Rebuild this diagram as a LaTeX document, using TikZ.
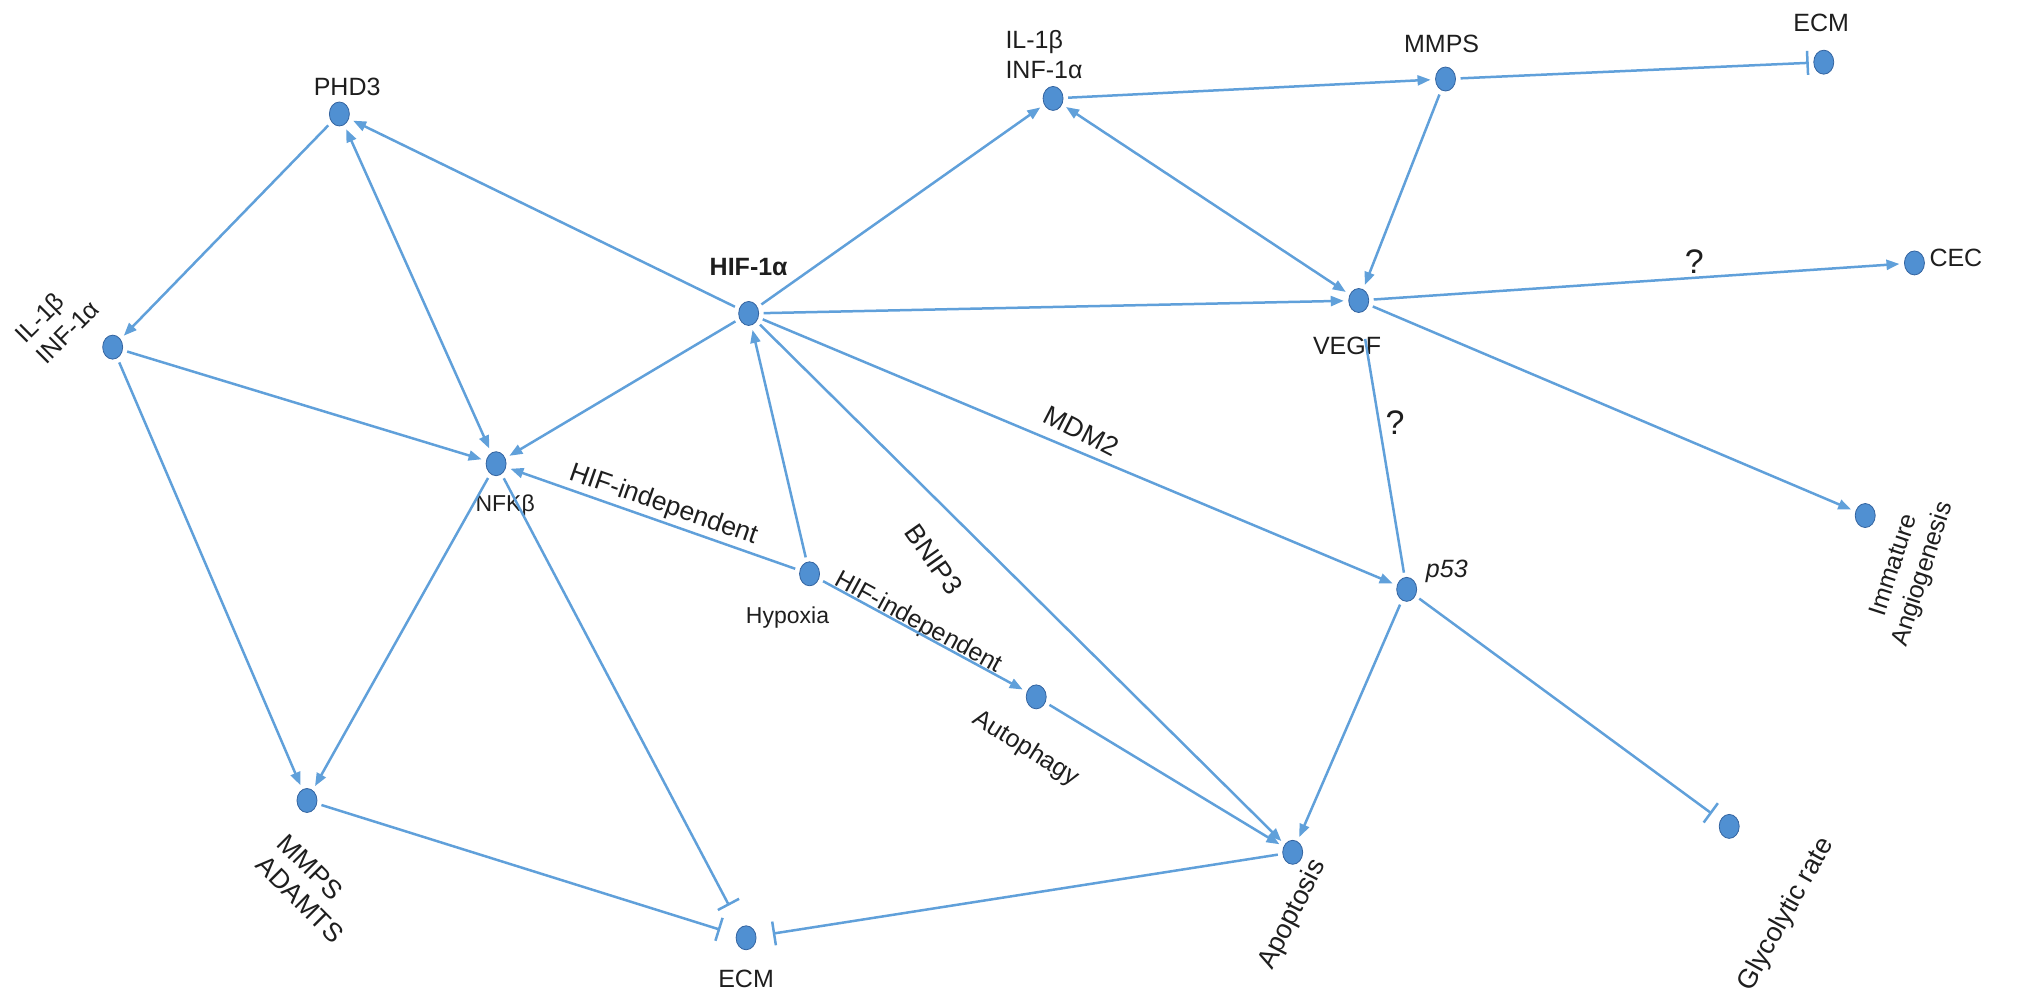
\documentclass[tikz,border=0pt]{standalone}
\usepackage{fontspec}
\setmainfont{Liberation Sans}
\usetikzlibrary{arrows.meta,shapes.geometric}
\definecolor{edgeblue}{RGB}{96,160,218}
\definecolor{dotblue}{RGB}{80,144,210}
\definecolor{dotline}{RGB}{52,100,160}
\definecolor{txt}{RGB}{30,30,30}
\begin{document}
\begin{tikzpicture}[x=1.2953pt,y=-1.2953pt,
  dotn/.style={ellipse, fill=dotblue, draw=dotline, line width=0.8pt,
    minimum width=20pt, minimum height=24pt, inner sep=0pt, outer sep=5pt},
  lab/.style={font=\fontsize{25}{30}\selectfont, text=txt, inner sep=0pt},
  blab/.style={font=\fontsize{27}{32}\selectfont, text=txt, inner sep=0pt},
  slab/.style={font=\fontsize{23}{28}\selectfont, text=txt, inner sep=0pt},
  qlab/.style={font=\fontsize{34}{40}\selectfont, text=txt, inner sep=0pt},
  con/.style={draw=edgeblue, line width=2.5pt, -{Triangle[length=13pt,width=10pt]}},
  con2/.style={draw=edgeblue, line width=2.5pt, {Triangle[length=13pt,width=10pt]}-{Triangle[length=13pt,width=10pt]}},
  inh/.style={draw=edgeblue, line width=2.5pt, -{Bar[width=24pt,line width=2.5pt]}},
  plainl/.style={draw=edgeblue, line width=2.5pt},
]
\useasboundingbox (0,0) rectangle (1568,773.6);

% nodes
\node[dotn] (phd) at (262,88) {};
\node[dotn] (ill) at (87,268) {};
\node[dotn] (hif) at (578,242) {};
\node[dotn] (ilt) at (813,76) {};
\node[dotn] (mmt) at (1116,61) {};
\node[dotn] (ecmt) at (1408,48) {};
\node[dotn] (vegf) at (1049,232) {};
\node[dotn] (cec) at (1478,203) {};
\node[dotn] (imm) at (1440,398) {};
\node[dotn] (p53) at (1086,455) {};
\node[dotn] (gly) at (1335,638) {};
\node[dotn] (apo) at (998,658) {};
\node[dotn] (aut) at (800,538) {};
\node[dotn] (hyp) at (625,443) {};
\node[dotn] (nfk) at (383,358) {};
\node[dotn] (mad) at (237,618) {};
\node[dotn] (ecmb) at (576,724) {};

% labels
\node[lab] (lphd) at (268,67) {PHD3};
\node[lab, rotate=45, align=left] (lill) at (44,248) {IL-1β\\INF-1α};
\node[lab, font=\fontsize{25}{30}\selectfont\bfseries] (lhif) at (578,206) {HIF-1α};
\node[lab, align=left] (lilt) at (806,42) {IL-1β\\INF-1α};
\node[lab] (lmmt) at (1113,34) {MMPS};
\node[lab] (lecmt) at (1406,18) {ECM};
\node[lab] (lvegf) at (1040,267) {VEGF};
\node[lab] (lcec) at (1510,199) {CEC};
\node[lab, rotate=72, align=center] (limm) at (1474,440) {Immature\\Angiogenesis};
\node[lab, font=\fontsize{25}{30}\selectfont\itshape] (lp53) at (1117,441) {p53};
\node[blab, rotate=61] (lgly) at (1379,706) {Glycolytic rate};
\node[blab, rotate=63] (lapo) at (998,706) {Apoptosis};
\node[lab, rotate=-32] (laut) at (792,578) {Autophagy};
\node[slab] (lhyp) at (608,477) {Hypoxia};
\node[slab] (lnfk) at (390,390) {NFKβ};
\node[lab, font=\fontsize{26.5}{30}\selectfont, rotate=-45, align=left] (lmad) at (240,686) {MMPS\\ADAMTS};
\node[lab] (lecmb) at (576,756) {ECM};

% edge labels
\node[lab, font=\fontsize{26.5}{30}\selectfont, rotate=-19.3] (lhi1) at (512,390) {HIF-independent};
\node[lab, rotate=-28.5] (lhi2) at (709,481) {HIF-independent};
\node[lab, font=\fontsize{27}{30}\selectfont, rotate=-55] (lbnip) at (721,432) {BNIP3};
\node[lab, font=\fontsize{27}{30}\selectfont, rotate=-27] (lmdm) at (835,333) {MDM2};
\node[qlab] (lq1) at (1308,202) {?};
\node[qlab] (lq2) at (1077,326) {?};

% connectors
\draw[con] (hif) -- (phd);
\draw[con2] (phd) -- (nfk);
\draw[con] (phd) -- (ill);
\draw[con] (ill) -- (nfk);
\draw[con] (ill) -- (mad);
\draw[con] (hif) -- (nfk);
\draw[con] (hyp) -- (nfk);
\draw[con] (nfk) -- (mad);
\draw[inh, shorten >=20pt] (nfk) -- (ecmb);
\draw[inh, shorten >=12pt] (mad) -- (ecmb);
\draw[inh, shorten >=12pt] (apo) -- (ecmb);
\draw[con] (hyp) -- (hif);
\draw[con] (hyp) -- (aut);
\draw[con] (aut) -- (apo);
\draw[con] (hif) -- (apo);
\draw[con] (hif) -- (p53);
\draw[con] (hif) -- (vegf);
\draw[con] (hif) -- (ilt);
\draw[con] (ilt) -- (mmt);
\draw[con2] (ilt) -- (vegf);
\draw[con] (mmt) -- (vegf);
\draw[inh] (mmt) -- (ecmt);
\draw[con] (vegf) -- (cec);
\draw[plainl, shorten <=22pt] (vegf) -- (p53);
\draw[con] (vegf) -- (imm);
\draw[con] (p53) -- (apo);
\draw[inh, shorten >=6pt] (p53) -- (gly);
\end{tikzpicture}
\end{document}
